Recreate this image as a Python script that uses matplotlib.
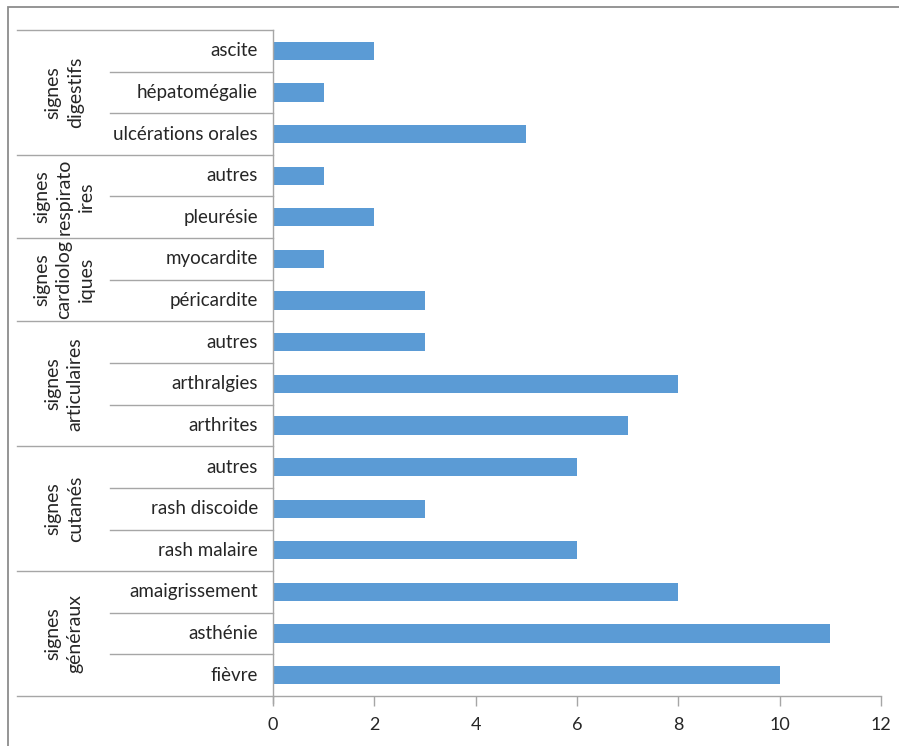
import matplotlib
matplotlib.use("Agg")
import matplotlib.pyplot as plt
from matplotlib.patches import Rectangle

plt.rcParams['font.family'] = ['Lato', 'DejaVu Sans']

# Data (bottom to top)
items = ["fièvre", "asthénie", "amaigrissement",
         "rash malaire", "rash discoide", "autres",
         "arthrites", "arthralgies", "autres",
         "péricardite", "myocardite",
         "pleurésie", "autres",
         "ulcérations orales", "hépatomégalie", "ascite"]
values = [10, 11, 8,
          6, 3, 6,
          7, 8, 3,
          3, 1,
          2, 1,
          5, 1, 2]
groups = ["signes\ngénéraux", "signes\ncutanés", "signes\narticulaires",
          "signes\ncardiolog\niques", "signes\nrespirato\nires", "signes\ndigestifs"]
group_sizes = [3, 3, 3, 2, 2, 3]
xticks = [0, 2, 4, 6, 8, 10, 12]

W, H = 899, 746
fig = plt.figure(figsize=(W / 100, H / 100), dpi=100)

# outer chart frame
fig.patches.append(Rectangle((8 / W, -0.01), 1.0, (H - 7) / H + 0.01, transform=fig.transFigure,
                             fill=False, edgecolor='#8c8c8c', linewidth=1.3))

x0, x1, y0, y1 = 273, 881, 696, 30
ax = fig.add_axes([x0 / W, (H - y0) / H, (x1 - x0) / W, (y0 - y1) / H])
ypos = list(range(len(items)))
ax.barh(ypos, values, height=0.44, color='#5B9BD5')
ax.set_xlim(0, 12)
ax.set_ylim(-0.5, len(items) - 0.5)

for s in ['top', 'right', 'bottom']:
    ax.spines[s].set_visible(False)
ax.spines['left'].set_color('#A6A6A6')
ax.spines['left'].set_linewidth(1.0)
ax.set_yticks([])
ax.set_xticks(xticks)
ax.set_xticklabels([str(v) for v in xticks])
ax.tick_params(axis='x', length=7, width=1.0, color='#A6A6A6', labelsize=13,
               labelcolor='#262626', pad=8)

tr = ax.get_yaxis_transform()
pw = x1 - x0
def ax_x(px):
    return (px - x0) / pw

lc = '#A6A6A6'
fs = 13.5
# axis baseline (extends across multi-level labels)
ax.plot([ax_x(17), 1.0], [-0.5, -0.5], transform=tr, color=lc, lw=1.0, clip_on=False)
# left axis extension below
ax.plot([0, 0], [-0.5, -0.5 - 7 / ((y0 - y1) / len(items))], transform=tr, color=lc,
        lw=1.0, clip_on=False)

# item labels and inner separators
for i, name in enumerate(items):
    ax.text(ax_x(258), i, name, transform=tr, ha='right', va='center',
            fontsize=fs, color='#262626')

start = 0
for g, n in zip(groups, group_sizes):
    for k in range(1, n):
        yy = start + k - 0.5
        ax.plot([ax_x(110), 0], [yy, yy], transform=tr, color=lc, lw=1.0, clip_on=False)
    top = start + n - 0.5
    ax.plot([ax_x(17), 0], [top, top], transform=tr, color=lc, lw=1.0, clip_on=False)
    ax.text(ax_x(64), start + (n - 1) / 2, g, transform=tr, ha='center', va='center',
            rotation=90, multialignment='center', fontsize=14, color='#262626',
            linespacing=1.4)
    start += n

fig.savefig("out.png", dpi=100)
